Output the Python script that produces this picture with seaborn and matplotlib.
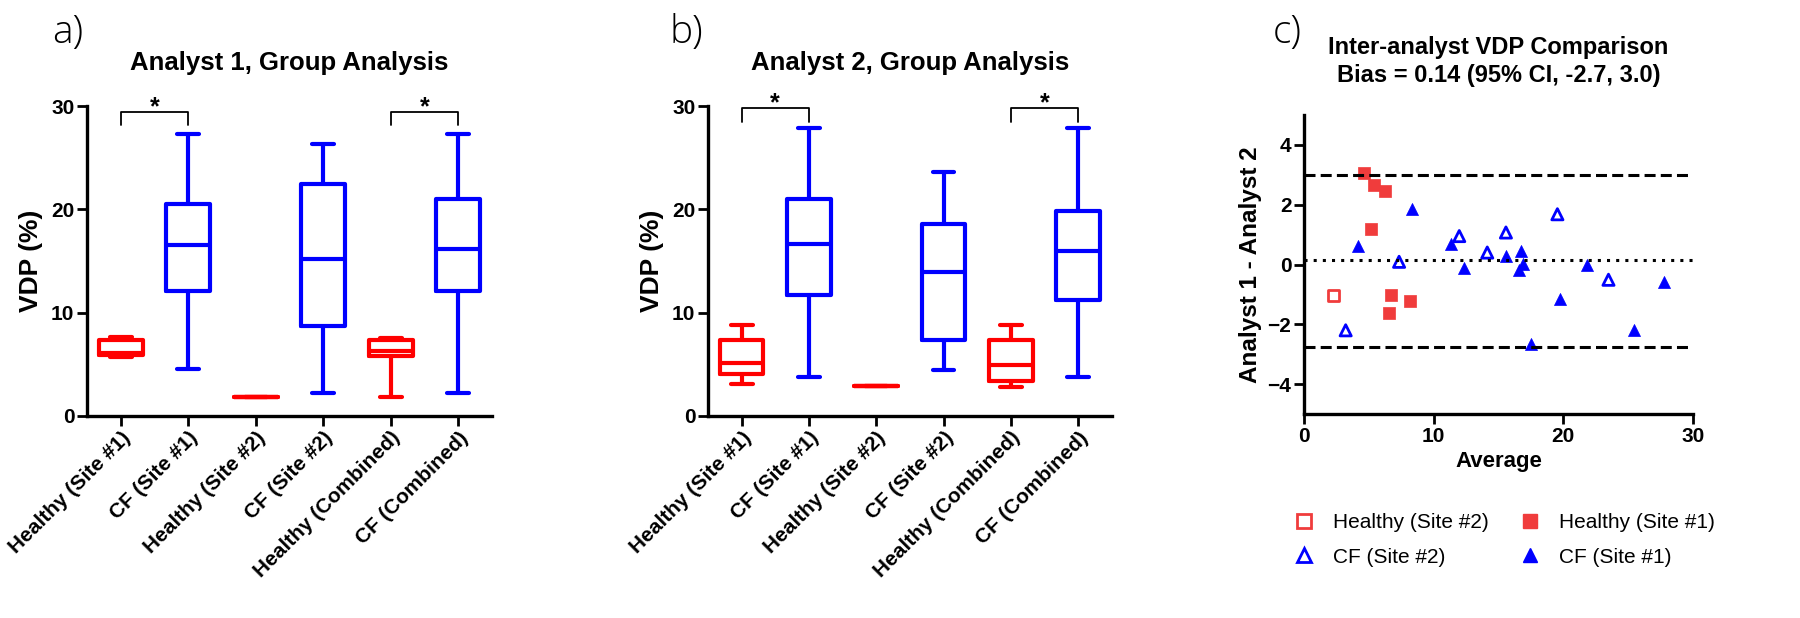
import numpy as np
import pandas as pd
import matplotlib
matplotlib.use("Agg")
import matplotlib.pyplot as plt
import seaborn as sns
from matplotlib.lines import Line2D

sns.set_theme(style="ticks")
plt.rcParams["font.family"] = ["Liberation Sans", "DejaVu Sans"]
plt.rcParams.update({
    "font.weight": "bold",
    "axes.labelweight": "bold",
    "axes.titleweight": "bold",
    "text.color": "black",
    "axes.labelcolor": "black",
    "axes.edgecolor": "black",
    "xtick.color": "black",
    "ytick.color": "black",
})

groups = ["Healthy (Site #1)", "CF (Site #1)", "Healthy (Site #2)",
          "CF (Site #2)", "Healthy (Combined)", "CF (Combined)"]
group_colors = ["#ff0000", "#0000ff", "#ff0000", "#0000ff", "#ff0000", "#0000ff"]

# five-number summaries (min, q1, median, q3, max)
a1_healthy_s1 = [5.7, 5.9, 6.1, 7.3, 7.6]
a1_cf_s1 = [4.5, 12.1, 16.5, 20.5, 27.3]
a1_healthy_s2 = [1.8]
a1_cf_s2 = [2.2, 8.7, 15.2, 22.5, 26.3]
a1_healthy_comb = [1.8, 5.8, 6.3, 7.3, 7.5]
a1_cf_comb = [2.2, 12.1, 16.2, 21.0, 27.3]

a2_healthy_s1 = [3.1, 4.0, 5.1, 7.3, 8.8]
a2_cf_s1 = [3.8, 11.7, 16.6, 21.0, 27.9]
a2_healthy_s2 = [2.9]
a2_cf_s2 = [4.4, 7.3, 13.9, 18.6, 23.6]
a2_healthy_comb = [2.8, 3.4, 4.9, 7.3, 8.8]
a2_cf_comb = [3.8, 11.2, 16.0, 19.8, 27.9]

# Bland-Altman points
hs1_avg = [4.64, 5.38, 6.23, 5.20, 6.70, 6.54, 8.16]
hs1_diff = [3.07, 2.67, 2.45, 1.18, -1.01, -1.62, -1.23]
hs2_avg = [2.29]
hs2_diff = [-1.03]
cfs2_avg = [3.22, 7.34, 11.98, 14.14, 15.58, 19.55, 23.49]
cfs2_diff = [-2.20, 0.09, 0.95, 0.40, 1.07, 1.68, -0.51]
cfs1_avg = [4.17, 8.32, 11.38, 12.36, 15.58, 16.74, 16.59, 16.92, 17.51,
            19.75, 21.86, 25.42, 27.74]
cfs1_diff = [0.62, 1.85, 0.70, -0.11, 0.28, 0.46, -0.17, 0.03, -2.65,
             -1.15, -0.03, -2.20, -0.59]

bias = 0.14
loa_low = -2.75
loa_high = 3.0

sq_red = "#f03c3c"
tri_blue = "#0000ff"


def long_frame(cols):
    rows = []
    for g, vals in zip(groups, cols):
        for v in vals:
            rows.append((g, v))
    return pd.DataFrame(rows, columns=["group", "vdp"])


df_a = long_frame([a1_healthy_s1, a1_cf_s1, a1_healthy_s2, a1_cf_s2, a1_healthy_comb, a1_cf_comb])
df_b = long_frame([a2_healthy_s1, a2_cf_s1, a2_healthy_s2, a2_cf_s2, a2_healthy_comb, a2_cf_comb])

fig = plt.figure(figsize=(18, 6.18), dpi=100)
ax_a = fig.add_axes([0.0483, 0.3273, 0.225, 0.501])
ax_b = fig.add_axes([0.3933, 0.3273, 0.2244, 0.501])
ax_c = fig.add_axes([0.7244, 0.330, 0.2161, 0.484])


def style_axes(ax):
    ax.tick_params(width=2, length=7, labelsize=15, pad=2)
    for s in ["left", "bottom"]:
        ax.spines[s].set_linewidth(2.4)
    sns.despine(ax=ax)


def box_panel(ax, df, title, brackets):
    sns.boxplot(data=df, x="group", y="vdp", hue="group", order=groups,
                hue_order=groups, palette=group_colors, fill=False,
                width=0.65, linewidth=3, whis=(0, 100), legend=False, ax=ax)
    ax.set_ylim(0, 30)
    ax.set_xlim(-0.5, 5.5)
    ax.set_yticks([0, 10, 20, 30])
    ax.set_xticks(range(len(groups)))
    ax.set_xticklabels(groups, rotation=45, ha="right", rotation_mode="anchor")
    ax.set_xlabel("")
    ax.set_ylabel("VDP (%)", fontsize=19, labelpad=6)
    ax.set_title(title, fontsize=18.5, pad=26)
    style_axes(ax)
    for (x0, x1), (ylo, yhi) in brackets:
        ax.plot([x0, x0, x1, x1], [ylo, yhi, yhi, ylo], color="black", lw=1.3, clip_on=False)
        ax.text((x0 + x1) / 2, yhi - 0.2, "*", ha="center", va="baseline", fontsize=18)


box_panel(ax_a, df_a, "Analyst 1, Group Analysis",
          [((0, 1), (28.2, 29.4)), ((4, 5), (28.2, 29.4))])
box_panel(ax_b, df_b, "Analyst 2, Group Analysis",
          [((0, 1), (28.5, 29.8)), ((4, 5), (28.5, 29.8))])

# panel c
ax = ax_c
ax.axhline(loa_high, color="black", lw=2.2, ls=(0, (3.6, 1.7)))
ax.axhline(loa_low, color="black", lw=2.2, ls=(0, (3.6, 1.7)))
ax.axhline(bias, color="black", lw=2.2, ls=(0, (1, 2)))
sns.scatterplot(x=hs2_avg, y=hs2_diff, marker="s", s=60, facecolor="none",
                edgecolor=sq_red, linewidth=2, ax=ax)
sns.scatterplot(x=hs1_avg, y=hs1_diff, marker="s", s=75, color=sq_red,
                edgecolor=sq_red, linewidth=0.5, ax=ax)
sns.scatterplot(x=cfs2_avg, y=cfs2_diff, marker="^", s=65, facecolor="none",
                edgecolor=tri_blue, linewidth=2, ax=ax)
sns.scatterplot(x=cfs1_avg, y=cfs1_diff, marker="^", s=75, color=tri_blue,
                edgecolor=tri_blue, linewidth=0.5, ax=ax)
ax.set_xlim(0, 30)
ax.set_ylim(-5, 5)
ax.set_xticks([0, 10, 20, 30])
ax.set_yticks([-4, -2, 0, 2, 4])
ax.set_xlabel("Average", fontsize=16, labelpad=4)
ax.set_ylabel("Analyst 1 - Analyst 2", fontsize=17.5, labelpad=4)
ax.set_title("Inter-analyst VDP Comparison\nBias = 0.14 (95% CI, -2.7, 3.0)",
             fontsize=17, pad=24, linespacing=1.25)
style_axes(ax)

handles = [
    Line2D([], [], ls="none", marker="s", ms=10, mfc="none", mec=sq_red, mew=2),
    Line2D([], [], ls="none", marker="^", ms=10, mfc="none", mec=tri_blue, mew=2),
    Line2D([], [], ls="none", marker="s", ms=10, mfc=sq_red, mec=sq_red),
    Line2D([], [], ls="none", marker="^", ms=10, mfc=tri_blue, mec=tri_blue),
]
labels = ["Healthy (Site #2)", "CF (Site #2)", "Healthy (Site #1)", "CF (Site #1)"]
fig.legend(handles, labels, loc="upper left", bbox_to_anchor=(0.708, 0.2),
           ncol=2, frameon=False, prop={"size": 15, "weight": "normal"},
           handlelength=1.0, handletextpad=0.9, columnspacing=1.5,
           labelspacing=0.75)

for lab, x in [("a)", 0.029), ("b)", 0.372), ("c)", 0.707)]:
    fig.text(x, 0.93, lab, fontsize=28, fontweight="light",
             family=["Open Sans", "DejaVu Sans"], ha="left", va="baseline")

fig.savefig("out.png", dpi=100)
